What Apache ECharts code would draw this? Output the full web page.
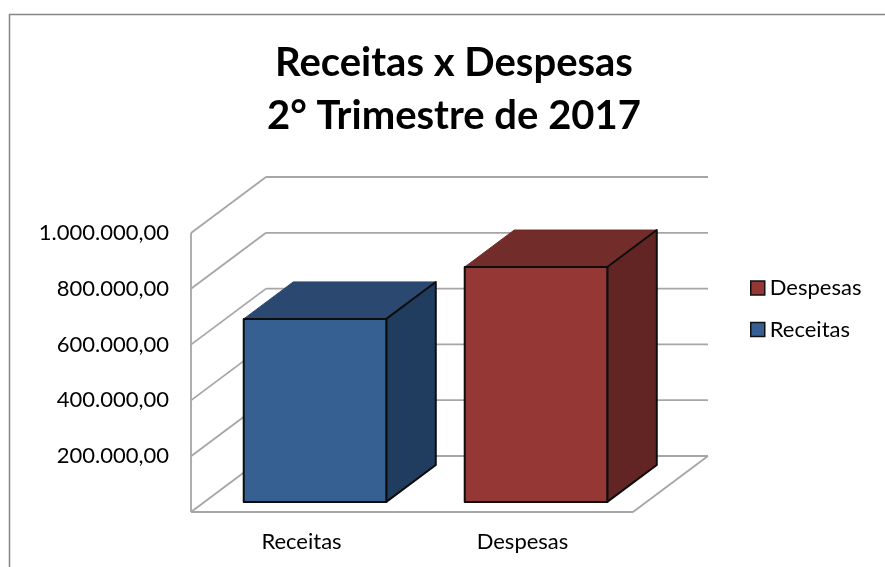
<!DOCTYPE html>
<html><head><meta charset="utf-8">
<style>html,body{margin:0;padding:0;background:#fff}#c{width:885px;height:567px}</style>
<script src="https://cdn.jsdelivr.net/npm/echarts@6/dist/echarts.min.js"></script>
</head><body><div id="c"></div>
<script>
const categories = ['Receitas', 'Despesas'];
const receitas = [656000, null];
const despesas = [null, 842000];
const yTicks = [0, 200000, 400000, 600000, 800000, 1000000];
const legendOrder = ['Despesas', 'Receitas'];
const titleText = 'Receitas x Despesas\n2° Trimestre de 2017';

const font = 'Lato';
const DX = 75, DY = -56;
const GRID = '#a6a6a6';
const d0 = 0.18, d1 = 0.84, barFrac = 0.645;
const fmt = v => v === 0 ? '' : v.toLocaleString('pt-BR', {minimumFractionDigits: 2, maximumFractionDigits: 2});

function wallItem(params, api) {
  const v = api.value(0);
  const p = api.coord([0, v]);
  const left = params.coordSys.x, right = left + params.coordSys.width;
  const children = [];
  const line = (x1, y1, x2, y2) => ({type: 'line', shape: {x1, y1, x2, y2},
    style: {stroke: GRID, lineWidth: 1.8}});
  const y = p[1];
  children.push(line(left, y, left + DX, y + DY));
  children.push(line(left + DX, y + DY, right + DX, y + DY));
  if (v === 0) {
    children.push(line(left, y, right, y));
    children.push(line(right, y, right + DX, y + DY));
    children.push(line(left, y, left, params.coordSys.y));
  }
  return {type: 'group', children};
}

function barItem(colors) {
  return function (params, api) {
    const c = api.value(0), v = api.value(1);
    const base = api.coord([c, 0]), top = api.coord([c, v]);
    const w = api.size([1, 0])[0] * barFrac;
    const sx = DX * d0, sy = DY * d0;
    const ex = DX * (d1 - d0), ey = DY * (d1 - d0);
    const x0 = base[0] - w / 2 + sx, x1 = base[0] + w / 2 + sx;
    const yb = base[1] + sy, yt = top[1] + sy;
    const stroke = {stroke: '#0d0d0d', lineWidth: 2, lineJoin: 'round'};
    return {type: 'group', children: [
      {type: 'polygon', shape: {points: [[x0, yt], [x1, yt], [x1 + ex, yt + ey], [x0 + ex, yt + ey]]},
        style: {fill: colors.top, stroke: colors.top, lineWidth: 1}},
      {type: 'polygon', shape: {points: [[x1, yt], [x1 + ex, yt + ey], [x1 + ex, yb + ey], [x1, yb]]},
        style: {fill: colors.side, ...stroke}},
      {type: 'polygon', shape: {points: [[x0, yt], [x1, yt], [x1, yb], [x0, yb]]},
        style: {fill: colors.front, ...stroke}}
    ]};
  };
}

const barEncode = {x: 0, y: 1};
const pairs = a => a.map((v, i) => [i, v]).filter(d => d[1] !== null);

const chart = echarts.init(document.getElementById('c'), null, {renderer: 'canvas'});
chart.setOption({
  animation: false,
  backgroundColor: '#fff',
  textStyle: {fontFamily: font},
  title: {
    text: titleText, left: 449, top: 32, textAlign: 'center',
    textStyle: {fontFamily: font, fontWeight: 'bold', fontSize: 40, lineHeight: 53, color: '#000'}
  },
  legend: {
    data: legendOrder, orient: 'vertical', left: 750, top: 277, padding: 0,
    icon: 'rect', itemWidth: 14, itemHeight: 14, itemGap: 19.6,
    itemStyle: {borderColor: '#111', borderWidth: 1.5},
    textStyle: {fontFamily: font, fontSize: 22, lineHeight: 22, color: '#000'}
  },
  grid: {left: 191, width: 442, top: 233, height: 279},
  xAxis: {
    type: 'category', data: categories,
    axisLine: {show: false}, axisTick: {show: false}, splitLine: {show: false},
    axisLabel: {fontFamily: font, fontSize: 22, color: '#000', margin: 19}
  },
  yAxis: {
    type: 'value', min: 0, max: 1000000, interval: 200000,
    axisLine: {show: false}, axisTick: {show: false}, splitLine: {show: false},
    axisLabel: {fontFamily: font, fontSize: 22, color: '#000', margin: 22, padding: [5, 0, 0, 0], formatter: fmt}
  },
  graphic: [{type: 'rect', silent: true, z: -1, shape: {x: 9.5, y: 14.5, width: 900, height: 600},
    style: {fill: 'none', stroke: '#868686', lineWidth: 1.5}}],
  series: [
    {name: 'grid', type: 'custom', coordinateSystem: 'cartesian2d', z: 1,
      renderItem: wallItem, data: yTicks.map(v => [v]), encode: {y: 0}, silent: true},
    {name: 'Receitas', type: 'custom', coordinateSystem: 'cartesian2d', z: 2,
      itemStyle: {color: '#376092'},
      renderItem: barItem({front: '#376092', top: '#2b4870', side: '#203d5f'}),
      data: pairs(receitas), encode: barEncode},
    {name: 'Despesas', type: 'custom', coordinateSystem: 'cartesian2d', z: 3,
      itemStyle: {color: '#953735'},
      renderItem: barItem({front: '#953735', top: '#722c2a', side: '#632523'}),
      data: pairs(despesas), encode: barEncode}
  ]
});
</script></body></html>
